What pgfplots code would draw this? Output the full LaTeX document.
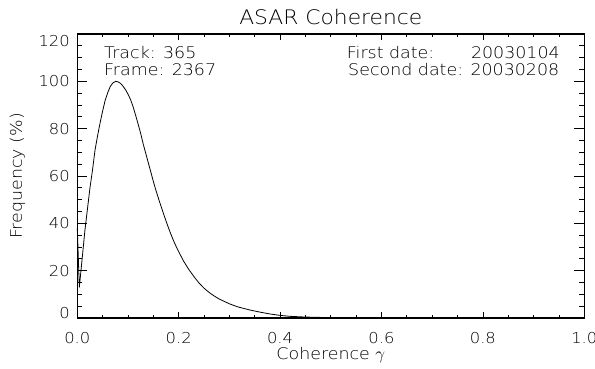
\documentclass[border=0pt]{standalone}
\usepackage{pgfplots}
\pgfplotsset{compat=1.18}
\usepackage{fontspec}
\setmainfont{DejaVu Sans ExtraLight}[FakeStretch=1.09]
\newcommand{\fa}{\fontsize{15}{18}\selectfont}
\newcommand{\fb}{\fontsize{16}{19}\selectfont}
\newcommand{\fc}{\fontsize{20}{24}\selectfont}
\pgfplotsset{
  base/.style={
    scale only axis, width=507pt, height=284pt,
    xmin=0, xmax=1, ymin=0, ymax=120,
    tick align=inside,
    axis line style={line width=1.1pt, black},
    tick style={line width=0.8pt, black},
    clip=false,
  }
}
\begin{document}
\begin{tikzpicture}
\begin{axis}[base,
  xtick={0,0.2,0.4,0.6,0.8,1.0},
  xticklabels={0.0,0.2,0.4,0.6,0.8,1.0},
  minor x tick num=3,
  ytick=\empty,
  major tick length=5.7pt, minor tick length=2.85pt,
  xticklabel style={font=\fa, anchor=base, inner sep=0pt, yshift=-25.3pt},
]
\addplot[black, line width=0.8pt, line join=round] coordinates {
(0.000,38) (0.004,13) (0.010,26) (0.015,37) (0.020,46) (0.025,55)
(0.030,62.5) (0.035,71) (0.040,77) (0.045,82.5) (0.050,87.5) (0.055,92)
(0.060,95.2) (0.065,97.8) (0.070,99.3) (0.0757,100) (0.080,99.8) (0.085,99.2)
(0.090,98) (0.095,96.5) (0.100,94.6) (0.105,92.3) (0.110,89.3) (0.115,85.7)
(0.120,81.9) (0.125,78) (0.130,73.5) (0.135,69.6) (0.140,65.6) (0.145,61.7)
(0.150,57.7) (0.155,54.0) (0.160,50.6) (0.165,47.3) (0.170,44.1) (0.175,41.0)
(0.180,38.0) (0.185,35.2) (0.190,32.6) (0.195,30.2) (0.200,28.0) (0.210,23.9)
(0.220,20.5) (0.230,17.5) (0.240,14.8) (0.250,12.6) (0.260,10.8) (0.270,9.3)
(0.280,8.0) (0.290,7.0) (0.300,6.0) (0.310,5.2) (0.320,4.5) (0.340,3.4)
(0.360,2.5) (0.380,1.7) (0.400,1.1) (0.420,0.7) (0.450,0.4) (0.500,0.15)
(0.550,0.05) (0.600,0.02) (0.700,0) (0.800,0) (0.900,0) (1.000,0)
};
\coordinate (sw) at (rel axis cs:0,0);
\coordinate (ne) at (rel axis cs:1,1);
\coordinate (yl) at (rel axis cs:0,0.5);
\coordinate (tt) at (rel axis cs:0.5,1);
\coordinate (bb) at (rel axis cs:0.5,0);
\end{axis}
\begin{axis}[base,
  xtick=\empty,
  ytick={0,20,40,60,80,100,120},
  yticklabels={\raisebox{5pt}{0},20,40,60,80,100,\raisebox{-7pt}{120}},
  minor y tick num=3,
  major tick length=10pt, minor tick length=5pt,
  yticklabel style={font=\fa, anchor=base east, inner sep=0pt, xshift=-7.3pt, yshift=-5.5pt},
]
\end{axis}
\node[font=\fc, anchor=base] at ([yshift=9pt]tt) {ASAR Coherence};
\node[font=\fb, anchor=base] at ([yshift=-42pt]bb) {Coherence $\gamma$};
\node[font=\fb, anchor=base, rotate=90] at ([xshift=-55.3pt]yl) {Frequency (\%)};
\node[font=\fb, anchor=base west, inner sep=0pt] at ([shift={(26.7pt,259.7pt)}]sw) {Track: 365};
\node[font=\fb, anchor=base west, inner sep=0pt] at ([shift={(26.7pt,242pt)}]sw) {Frame: 2367};
\node[font=\fb, anchor=base west, inner sep=0pt] at ([shift={(269.4pt,259.7pt)}]sw) {First date:};
\node[font=\fb, anchor=base east, inner sep=0pt] at ([shift={(482.7pt,259.7pt)}]sw) {20030104};
\node[font=\fb, anchor=base west, inner sep=0pt] at ([shift={(270.7pt,242pt)}]sw) {Second date: 20030208};
\pgfresetboundingbox
\path[use as bounding box] ([shift={(-77.3pt,-51pt)}]sw) rectangle ([shift={(10.7pt,34pt)}]ne);
\end{tikzpicture}
\end{document}
